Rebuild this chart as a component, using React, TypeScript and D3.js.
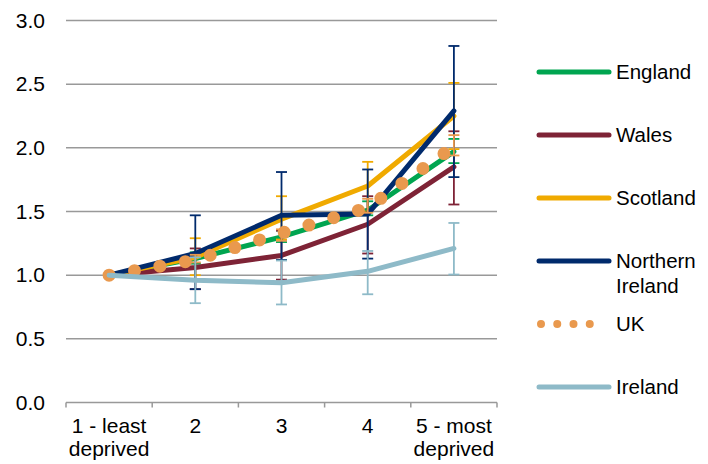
import React from "react";
import * as d3 from "d3";

const categories = ["1 - least|deprived", "2", "3", "4", "5 - most|deprived"];
const yTicks = [0, 0.5, 1.0, 1.5, 2.0, 2.5, 3.0];

const seriesNames = ["England", "Wales", "Scotland", "Northern|Ireland", "UK", "Ireland"];
const seriesColors = ["#00A550", "#7E2336", "#F0AA00", "#002A6C", "#E9994E", "#8EBAC8"];

const england = [1.0, 1.13, 1.3, 1.51, 1.97];
const wales = [1.0, 1.06, 1.155, 1.4, 1.85];
const scotland = [1.0, 1.14, 1.44, 1.7, 2.25];
const nIreland = [1.0, 1.17, 1.47, 1.48, 2.29];
const uk = [1.0, 1.12, 1.33, 1.53, 2.01];
const ireland = [1.0, 0.96, 0.94, 1.03, 1.21];

// error bars: [low, high] per category (null = none)
const englandErr: ([number, number] | null)[] = [null, [1.09, 1.18], [1.26, 1.35], [1.47, 1.58], [1.88, 2.07]];
const walesErr: ([number, number] | null)[] = [null, [0.89, 1.21], [0.965, 1.35], [1.17, 1.62], [1.555, 2.13]];
const scotlandErr: ([number, number] | null)[] = [null, [1.0, 1.29], [1.28, 1.62], [1.5, 1.89], [1.99, 2.51]];
const nIrelandErr: ([number, number] | null)[] = [null, [0.89, 1.47], [1.12, 1.81], [1.13, 1.83], [1.77, 2.8]];
const ukErr: ([number, number] | null)[] = [null, [1.1, 1.16], [1.27, 1.36], [1.49, 1.6], [1.94, 2.1]];
const irelandErr: ([number, number] | null)[] = [null, [0.78, 1.14], [0.77, 1.115], [0.85, 1.19], [1.005, 1.41]];

const values = [england, wales, scotland, nIreland, uk, ireland];
const errors = [englandErr, walesErr, scotlandErr, nIrelandErr, ukErr, irelandErr];

const W = 708;
const H = 464;
const FONT = "'Liberation Sans', Arial, sans-serif";

export default function App() {
  const x = d3.scaleBand<string>().domain(categories).range([66, 497]);
  const y = d3.scaleLinear().domain([0, 3]).range([402.5, 20.5]);
  const cx = (c: string) => (x(c) as number) + x.bandwidth() / 2;
  const line = d3
    .line<number>()
    .x((_, i) => cx(categories[i]))
    .y((d) => y(d));

  const boundaries = [...categories.map((c) => x(c) as number), 497];
  const legendY0 = 72;
  const legendStep = 63;

  return (
    <svg
      width={W}
      height={H}
      style={{ position: "absolute", left: 0, top: 0, background: "#fff" }}
      fontFamily={FONT}
    >
      {/* gridlines */}
      {yTicks.map((t) => (
        <line key={t} x1={66} x2={497} y1={y(t)} y2={y(t)} stroke={t === 0 ? "#999" : "#999"} strokeWidth={1.5} />
      ))}
      {/* y labels */}
      {yTicks.map((t) => (
        <text key={"yl" + t} x={45} y={y(t) + 7} textAnchor="end" fontSize={21} fill="#000">
          {t.toFixed(1)}
        </text>
      ))}
      {/* x ticks */}
      {boundaries.map((b, i) => (
        <line key={"xt" + i} x1={b} x2={b} y1={y(0)} y2={y(0) + 5} stroke="#999" strokeWidth={1.5} />
      ))}
      {/* x labels */}
      {categories.map((c) =>
        c.split("|").map((part, j) => (
          <text key={c + j} x={cx(c)} y={433 + j * 23} textAnchor="middle" fontSize={21} fill="#000">
            {part}
          </text>
        ))
      )}
      {/* series */}
      {values.map((vals, si) => {
        const color = seriesColors[si];
        const isUK = seriesNames[si] === "UK";
        return (
          <g key={"s" + si}>
            <path
              d={line(vals) as string}
              fill="none"
              stroke={color}
              strokeWidth={isUK ? 13 : 5}
              strokeLinecap="round"
              strokeLinejoin="round"
              strokeDasharray={isUK ? "0 25.8" : undefined}
            />
            {errors[si].map((e, ci) => {
              if (!e) return null;
              const px = cx(categories[ci]);
              return (
                <g key={"e" + ci} stroke={color} strokeWidth={1.8}>
                  <line x1={px} x2={px} y1={y(e[0])} y2={y(e[1])} />
                  <line x1={px - 5.5} x2={px + 5.5} y1={y(e[0])} y2={y(e[0])} />
                  <line x1={px - 5.5} x2={px + 5.5} y1={y(e[1])} y2={y(e[1])} />
                </g>
              );
            })}
          </g>
        );
      })}
      {/* legend */}
      {seriesNames.map((name, i) => {
        const ly = legendY0 + i * legendStep;
        const isUK = name === "UK";
        return (
          <g key={"lg" + i}>
            <line
              x1={isUK ? 541 : 539}
              x2={isUK ? 606 : 609}
              y1={ly}
              y2={ly}
              stroke={seriesColors[i]}
              strokeWidth={isUK ? 8 : 5}
              strokeLinecap="round"
              strokeDasharray={isUK ? "0 16.25" : undefined}
            />
            {name.split("|").map((part, j) => (
              <text key={j} x={616} y={ly + 7 + j * 25} fontSize={20.5} fill="#000">
                {part}
              </text>
            ))}
          </g>
        );
      })}
    </svg>
  );
}
